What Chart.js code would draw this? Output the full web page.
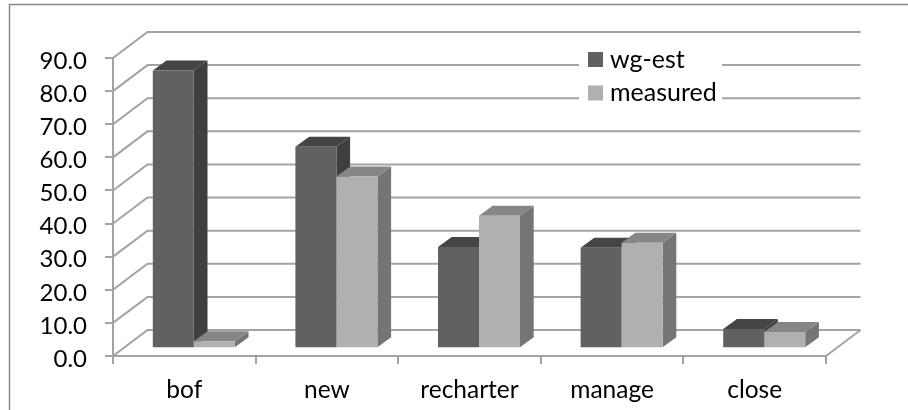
<!DOCTYPE html>
<html>
<head>
<meta charset="utf-8">
<title>wg-est vs measured</title>
<script src="https://cdn.jsdelivr.net/npm/chart.js@4/dist/chart.umd.min.js"></script>
<style>
    html, body { margin: 0; padding: 0; background: #fff; }
    canvas { display: block; }
</style>
</head>
<body>
<canvas id="chart" width="908" height="410"></canvas>
<script>
const categories = ['bof', 'new', 'recharter', 'manage', 'close'];
const wgEst = [83.9, 60.9, 30.6, 30.4, 5.8];
const measured = [2.1, 51.9, 40.0, 31.9, 4.9];

const FONT = 'Lato, "Open Sans", sans-serif';
const GRID = '#a3a3a3';
const INK = '#000';

// Oblique offsets of the fake 3D box.
const WALL = { x: 34.5, y: -26 };
const BAR_SHIFT = { x: 9.5, y: -7.7 };
const BAR_DEPTH = { x: 13.7, y: -10 };

function poly(ctx, points, fill) {
    ctx.fillStyle = fill;
    ctx.beginPath();
    points.forEach(function (p, i) {
        if (i === 0) ctx.moveTo(p[0], p[1]); else ctx.lineTo(p[0], p[1]);
    });
    ctx.closePath();
    ctx.fill();
}

// Back wall grid, the slanted side wall lines and the floor edge.
const wallPlugin = {
    id: 'wall',
    afterUpdate: function (chart) {
        // Nudge the value labels down so the digits centre on their ticks.
        const y = chart.scales.y;
        y.getLabelItems(chart.chartArea).forEach(function (item) {
            item.options.translation[1] += 3;
        });
    },
    beforeDraw: function (chart) {
        const ctx = chart.ctx;
        ctx.save();
        ctx.strokeStyle = '#8a8a8a';
        ctx.lineWidth = 1.5;
        ctx.beginPath();
        ctx.moveTo(9.5, 410);
        ctx.lineTo(9.5, 4.5);
        ctx.lineTo(908, 4.5);
        ctx.stroke();
        ctx.restore();
    },
    beforeDatasetsDraw: function (chart) {
        const ctx = chart.ctx;
        const area = chart.chartArea;
        const y = chart.scales.y;
        ctx.save();
        ctx.strokeStyle = GRID;
        ctx.lineWidth = 2;
        y.ticks.forEach(function (t) {
            const py = y.getPixelForValue(t.value);
            ctx.beginPath();
            ctx.moveTo(area.left, py);
            ctx.lineTo(area.left + WALL.x, py + WALL.y);
            ctx.lineTo(area.right + WALL.x, py + WALL.y);
            ctx.stroke();
        });
        ctx.beginPath();
        ctx.moveTo(area.right, area.bottom);
        ctx.lineTo(area.right + WALL.x, area.bottom + WALL.y);
        ctx.stroke();
        ctx.restore();
    }
};

// Bars sit mid-depth on the floor, each with a top and a side face.
// Chart.js paints the first dataset last, so the painting is taken over
// here to get the measured bars in front of the wg-est side faces.
const boxPlugin = {
    id: 'box',
    beforeDatasetDraw: function () {
        return false;
    },
    afterDatasetsDraw: function (chart) {
        const ctx = chart.ctx;
        ctx.save();
        ctx.translate(BAR_SHIFT.x, BAR_SHIFT.y);
        chart.data.datasets.forEach(function (ds, i) {
            const meta = chart.getDatasetMeta(i);
            meta.data.forEach(function (bar) {
                const l = bar.x - bar.width / 2;
                const r = bar.x + bar.width / 2;
                const dx = BAR_DEPTH.x;
                const dy = BAR_DEPTH.y;
                poly(ctx, [[r, bar.y], [r + dx, bar.y + dy], [r + dx, bar.base + dy], [r, bar.base]], ds.sideColor);
                poly(ctx, [[l, bar.y], [l + dx, bar.y + dy], [r + dx, bar.y + dy], [r, bar.y]], ds.topColor);
            });
            meta.controller.draw();
        });
        ctx.restore();
    }
};

// Legend floats over the wall on a white patch.
const legendPlugin = {
    id: 'floatLegend',
    afterDatasetsDraw: function (chart) {
        const ctx = chart.ctx;
        ctx.save();
        ctx.fillStyle = '#fff';
        ctx.fillRect(579, 47, 143, 60);
        ctx.font = '25px ' + FONT;
        ctx.textBaseline = 'middle';
        chart.data.datasets.forEach(function (ds, i) {
            const top = 52 + i * 33.5;
            ctx.fillStyle = ds.backgroundColor;
            ctx.fillRect(588, top, 15, 15);
            ctx.fillStyle = INK;
            ctx.fillText(ds.label, 610, top + 7.5);
        });
        ctx.restore();
    }
};

new Chart(document.getElementById('chart').getContext('2d'), {
    type: 'bar',
    data: {
        labels: categories,
        datasets: [
            { label: 'wg-est', data: wgEst, backgroundColor: '#616161', topColor: '#454545', sideColor: '#3f3f3f' },
            { label: 'measured', data: measured, backgroundColor: '#b0b0b0', topColor: '#868686', sideColor: '#757575' }
        ]
    },
    options: {
        responsive: false,
        animation: false,
        layout: { padding: { top: 58, right: 82, left: 0, bottom: 0 } },
        categoryPercentage: 0.575,
        barPercentage: 1,
        plugins: { legend: { display: false }, tooltip: { enabled: false } },
        scales: {
            x: {
                grid: { drawOnChartArea: false, color: GRID, lineWidth: 2, tickLength: 8, offset: true },
                border: { color: GRID, width: 2 },
                ticks: { color: INK, font: { family: FONT, size: 24.5 }, padding: 11, maxRotation: 0 },
                afterFit: function (scale) { scale.height = 54; }
            },
            y: {
                min: 0,
                max: 90,
                grid: { drawOnChartArea: false, color: GRID, lineWidth: 2, tickLength: 8 },
                border: { color: GRID, width: 2 },
                ticks: {
                    stepSize: 10,
                    color: INK,
                    font: { family: FONT, size: 24 },
                    padding: 18,
                    callback: function (v) { return v.toFixed(1); }
                },
                afterFit: function (scale) { scale.width = 113; }
            }
        }
    },
    plugins: [wallPlugin, boxPlugin, legendPlugin]
});
</script>
</body>
</html>
